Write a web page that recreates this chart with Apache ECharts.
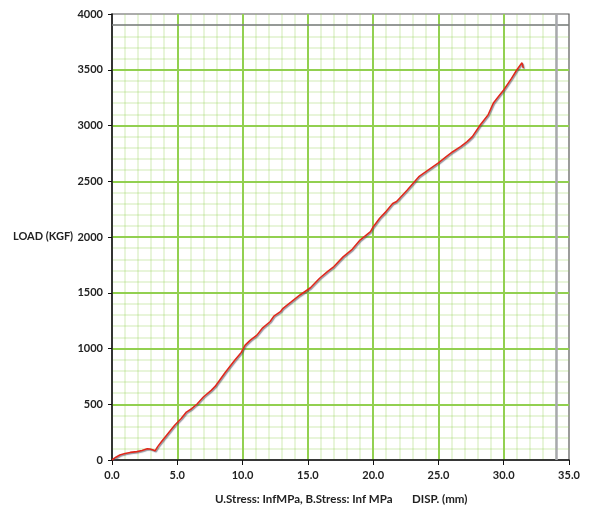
<!DOCTYPE html>
<html>
<head>
<meta charset="utf-8">
<script src="https://cdn.jsdelivr.net/npm/echarts@6/dist/echarts.min.js"></script>
<style>
html,body{margin:0;padding:0;background:#fff;}
#chart{width:593px;height:512px;}
</style>
</head>
<body>
<div id="chart"></div>
<script>
// DISP. (mm)
var dispValues = [0, 0.3, 0.6, 1.0, 1.4, 1.9, 2.3, 2.7, 2.9, 3.1, 3.3, 3.5, 3.8, 4.2, 4.8, 5.3, 5.7, 6.1, 6.5, 7.0, 7.6, 7.9, 8.3, 8.7, 9.4, 9.9, 10.2, 10.6, 11.1, 11.5, 12.1, 12.4, 12.9, 13.1, 13.7, 14.4, 15.2, 15.9, 16.5, 17.0, 17.7, 18.4, 19.0, 19.8, 20.0, 20.5, 21.0, 21.5, 21.8, 22.6, 22.7, 23.5, 24.4, 25.0, 25.6, 26.1, 26.7, 27.2, 27.6, 28.2, 28.8, 29.2, 29.6, 30.0, 30.6, 31.0, 31.4, 31.5];
// LOAD (KGF)
var loadValues = [0, 25, 45, 58, 68, 75, 85, 100, 98, 92, 82, 120, 165, 225, 312, 372, 430, 460, 500, 565, 625, 660, 725, 790, 895, 965, 1030, 1075, 1120, 1180, 1240, 1290, 1330, 1360, 1415, 1480, 1545, 1630, 1690, 1735, 1822, 1890, 1973, 2048, 2090, 2168, 2230, 2300, 2318, 2420, 2437, 2541, 2616, 2665, 2720, 2765, 2810, 2855, 2900, 3004, 3094, 3199, 3260, 3318, 3423, 3498, 3562, 3515];
var refLoadLine = 3900;
var refDispLine = 34;
var xTickMin = 0, xTickMax = 35, xTickStep = 5;
var yTickMin = 0, yTickMax = 4000, yTickStep = 500;
var yAxisTitle = 'LOAD (KGF)';
var xAxisTitle = 'DISP. (mm)';
var stressText = 'U.Stress: InfMPa, B.Stress: Inf MPa';

var points = dispValues.map(function (d, i) { return [d, loadValues[i]]; });
var FONT = 'Lato';
var MAJOR = '#92d050';
var MINOR = 'rgba(146,208,80,0.28)';
var chart = echarts.init(document.getElementById('chart'));
chart.setOption({
  animation: false,
  backgroundColor: '#ffffff',
  grid: { left: 112, right: 24, top: 14, bottom: 52, show: true, borderColor: '#5a5a5a', borderWidth: 1.2, backgroundColor: 'transparent' },
  xAxis: {
    type: 'value', min: xTickMin, max: xTickMax, interval: xTickStep,
    axisLine: { show: true, onZero: false, lineStyle: { color: '#111', width: 1.5 } },
    axisTick: { show: true, length: 5, lineStyle: { color: '#111' } },
    axisLabel: { color: '#222', fontFamily: FONT, fontWeight: 'bold', fontSize: 11, margin: 10,
      formatter: function (v) { return v.toFixed(1); } },
    splitLine: { show: true, showMinLine: false, showMaxLine: false, lineStyle: { color: MAJOR, width: 2 } },
    minorTick: { show: false, splitNumber: 5 },
    minorSplitLine: { show: true, lineStyle: { color: MINOR, width: 1.5 } }
  },
  yAxis: {
    type: 'value', min: yTickMin, max: yTickMax, interval: yTickStep,
    axisLine: { show: true, onZero: false, lineStyle: { color: '#111', width: 1.5 } },
    axisTick: { show: true, length: 4, lineStyle: { color: '#111' } },
    axisLabel: { color: '#222', fontFamily: FONT, fontWeight: 'bold', fontSize: 11, margin: 9,
      formatter: function (v) { return String(v); } },
    splitLine: { show: true, showMinLine: false, showMaxLine: false, lineStyle: { color: MAJOR, width: 2 } },
    minorTick: { show: false, splitNumber: 5 },
    minorSplitLine: { show: true, lineStyle: { color: MINOR, width: 1.5 } }
  },
  graphic: [
    { type: 'text', left: 13, top: 231, style: { text: yAxisTitle, fill: '#222', font: 'bold 11px ' + FONT } },
    { type: 'text', left: 215, top: 493, style: { text: stressText, fill: '#222', font: 'bold 11.5px ' + FONT } },
    { type: 'text', left: 412, top: 493, style: { text: xAxisTitle, fill: '#222', font: 'bold 11.5px ' + FONT } }
  ],
  series: [{
    type: 'line',
    data: points,
    showSymbol: false,
    symbol: 'none',
    lineStyle: { color: '#e0281c', width: 1.6, shadowColor: 'rgba(70,70,90,0.6)', shadowOffsetX: 1, shadowOffsetY: 1, shadowBlur: 1 },
    markLine: {
      silent: true, symbol: 'none', label: { show: false },
      data: [
        { yAxis: refLoadLine, lineStyle: { color: '#7a7a80', width: 1.5, type: 'solid' } },
        { xAxis: refDispLine, lineStyle: { color: '#a8a8ae', width: 2.5, type: 'solid' } }
      ]
    }
  }]
});
</script>
</body>
</html>
